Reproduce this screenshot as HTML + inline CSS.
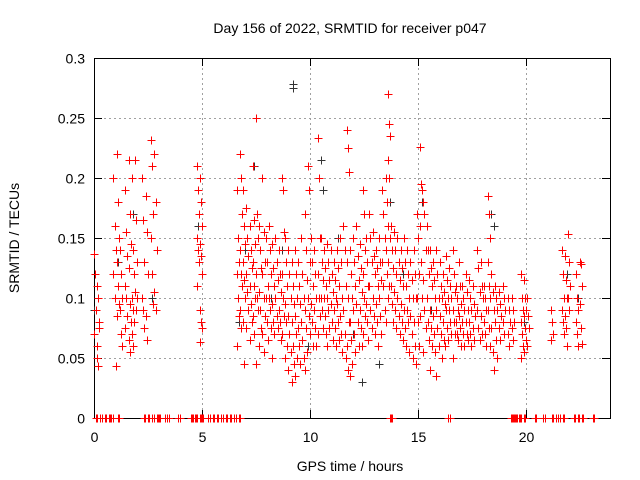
<!DOCTYPE html>
<html><head><meta charset="utf-8"><style>
body{margin:0;background:#fff}
svg{display:block;font-family:"Liberation Sans",sans-serif}
</style></head><body>
<svg id="chart" width="640" height="480" viewBox="0 0 640 480" xmlns="http://www.w3.org/2000/svg">
<rect width="640" height="480" fill="#fff"/>
<text x="350" y="33" font-size="14" text-anchor="middle">Day 156 of 2022, SRMTID for receiver p047</text>
<g id="grid"></g>
<g id="axes"></g>
<g id="black"></g>
<g id="red"></g>
<text x="350" y="471" font-size="14" text-anchor="middle">GPS time / hours</text>
<text transform="translate(19,238) rotate(-90)" font-size="14" text-anchor="middle">SRMTID / TECUs</text>
</svg>
<script>
const xTicks=[0,5,10,15,20];
const yTicks=[0,0.05,0.1,0.15,0.2,0.25,0.3];
const yTickLabels=["0","0.05","0.1","0.15","0.2","0.25","0.3"];
const sparseRows=[
[0.05,0.137,0.12,0.09,0.07],[0.2,0.11,0.1,0.08,0.06,0.043,0.075,0.05],
[0.95,0.2,0.16,0.14,0.12,0.1,0.043],[1.1,0.22,0.18,0.15,0.13,0.11,0.095,0.085],[1.25,0.14,0.12,0.1,0.09,0.07,0.06],
[1.5,0.19,0.155,0.135,0.11,0.1,0.085,0.075],[1.65,0.215,0.17,0.145,0.125,0.095,0.08,0.065,0.055],[1.8,0.2,0.14,0.12,0.1,0.09,0.08,0.07,0.06],[1.95,0.215,0.165,0.13,0.105,0.09,0.1],
[2.25,0.2,0.165,0.13,0.1,0.09,0.075],[2.45,0.185,0.155,0.12,0.085,0.065],
[2.7,0.232,0.21,0.17,0.15,0.12,0.095],[2.85,0.22,0.18,0.14,0.105,0.09],
[4.8,0.21,0.19,0.17,0.15,0.14,0.13,0.11],[4.95,0.2,0.18,0.16,0.145,0.135,0.12,0.09,0.08,0.075,0.063],
[21.2,0.09,0.08,0.07,0.065],[21.7,0.14,0.12,0.1,0.09,0.08,0.07],[21.85,0.135,0.115,0.1,0.085,0.075,0.06],[22.0,0.153,0.13,0.11,0.1,0.09],
[22.35,0.12,0.1,0.09,0.08,0.07,0.06],[22.55,0.13,0.128,0.11,0.095,0.075,0.062]
];
const denseRows=[
[6.65,0.19,0.15,0.13,0.12,0.1,0.085,0.06],[6.8,0.22,0.2,0.17,0.14,0.12,0.11,0.09,0.075],[6.95,0.19,0.16,0.145,0.13,0.115,0.1,0.08,0.045],
[7.1,0.175,0.15,0.135,0.12,0.105,0.09,0.075],[7.25,0.16,0.14,0.125,0.11,0.095,0.08,0.065],[7.4,0.21,0.165,0.145,0.13,0.11,0.1,0.085,0.07],
[7.55,0.25,0.17,0.15,0.12,0.1,0.09,0.045],[7.7,0.16,0.14,0.125,0.105,0.09,0.075,0.06],[7.85,0.2,0.155,0.13,0.12,0.1,0.085,0.07,0.055],
[8.0,0.15,0.13,0.11,0.1,0.08,0.065],[8.15,0.16,0.14,0.12,0.1,0.09,0.075],[8.3,0.145,0.125,0.11,0.095,0.08,0.07,0.05],
[8.45,0.15,0.13,0.115,0.1,0.085,0.075],[8.6,0.14,0.12,0.105,0.09,0.08,0.065],[8.75,0.2,0.19,0.155,0.12,0.1,0.085,0.07],
[8.9,0.15,0.13,0.11,0.095,0.08,0.06,0.05],[9.05,0.14,0.12,0.1,0.085,0.07,0.055,0.04],[9.2,0.13,0.11,0.095,0.08,0.06,0.045,0.03],
[9.35,0.14,0.12,0.1,0.085,0.07,0.05,0.035],[9.5,0.13,0.11,0.095,0.075,0.06,0.045],[9.65,0.15,0.12,0.1,0.08,0.065,0.05],
[9.8,0.17,0.14,0.115,0.09,0.075,0.055,0.04],[9.95,0.21,0.19,0.13,0.1,0.085,0.07],[10.1,0.15,0.13,0.11,0.095,0.08,0.06],
[10.25,0.14,0.12,0.1,0.09,0.075,0.06],[10.4,0.233,0.2,0.15,0.12,0.1,0.085,0.07],[10.55,0.15,0.13,0.115,0.1,0.09,0.075],
[10.7,0.14,0.125,0.11,0.1,0.085,0.07],[10.85,0.145,0.13,0.115,0.1,0.09,0.075,0.06],[11.0,0.14,0.12,0.105,0.095,0.08,0.065],
[11.15,0.13,0.115,0.1,0.09,0.075,0.06],[11.3,0.14,0.125,0.11,0.095,0.08,0.065],[11.45,0.15,0.13,0.1,0.085,0.07,0.055],
[11.6,0.16,0.14,0.11,0.09,0.07,0.05],[11.75,0.24,0.225,0.205,0.13,0.1,0.08,0.06,0.04],[11.9,0.14,0.12,0.1,0.08,0.065,0.045,0.035],
[12.05,0.15,0.13,0.11,0.09,0.07,0.055],[12.2,0.16,0.135,0.115,0.095,0.08,0.06],[12.35,0.145,0.125,0.105,0.09,0.075,0.06],
[12.5,0.19,0.17,0.14,0.12,0.1,0.085,0.07],[12.65,0.15,0.13,0.11,0.095,0.08,0.065],[12.8,0.17,0.15,0.13,0.11,0.09,0.075],
[12.95,0.155,0.135,0.12,0.1,0.085,0.07],[13.1,0.14,0.125,0.11,0.095,0.08,0.06],[13.25,0.15,0.13,0.115,0.1,0.085,0.07],
[13.4,0.19,0.17,0.15,0.13,0.11,0.09],[13.55,0.2,0.18,0.16,0.14,0.12,0.1,0.08],[13.65,0.27,0.245,0.235,0.215,0.2,0.15,0.13,0.11],
[13.8,0.16,0.14,0.125,0.11,0.095,0.08],[13.95,0.155,0.14,0.12,0.105,0.09,0.075],[14.1,0.15,0.13,0.115,0.1,0.085,0.07],
[14.25,0.14,0.125,0.11,0.095,0.08,0.065],[14.4,0.15,0.13,0.11,0.09,0.075,0.06],[14.55,0.14,0.12,0.1,0.09,0.08,0.055],
[14.7,0.13,0.115,0.1,0.085,0.07,0.05],[14.85,0.14,0.12,0.1,0.08,0.06,0.045],[15.0,0.17,0.15,0.12,0.1,0.08,0.06],
[15.15,0.226,0.195,0.19,0.16,0.13,0.1,0.085],[15.3,0.18,0.17,0.14,0.115,0.09,0.075,0.055],[15.45,0.16,0.14,0.12,0.1,0.08,0.065],
[15.6,0.14,0.125,0.11,0.09,0.075,0.06,0.04],[15.75,0.13,0.115,0.1,0.085,0.07,0.055],[15.9,0.14,0.12,0.1,0.09,0.075,0.06,0.035],
[16.05,0.13,0.11,0.1,0.085,0.07,0.05],[16.2,0.12,0.105,0.095,0.08,0.065,0.06],[16.35,0.135,0.115,0.1,0.09,0.075,0.065],
[16.5,0.125,0.11,0.1,0.09,0.08,0.07],[16.65,0.14,0.12,0.105,0.09,0.08,0.07,0.05],[16.8,0.11,0.1,0.09,0.08,0.07,0.065],
[16.95,0.13,0.11,0.095,0.085,0.075,0.06],[17.1,0.11,0.1,0.09,0.08,0.07,0.06],[17.25,0.12,0.105,0.09,0.08,0.07,0.065],
[17.4,0.115,0.1,0.09,0.08,0.07,0.06],[17.6,0.11,0.095,0.085,0.075,0.065],[17.8,0.14,0.125,0.105,0.09,0.075,0.065],
[17.95,0.13,0.11,0.1,0.085,0.07],[18.1,0.11,0.1,0.09,0.08,0.07,0.06],[18.3,0.185,0.17,0.15,0.13,0.11,0.1,0.09,0.075,0.06],
[18.45,0.12,0.105,0.09,0.075,0.055,0.04],[18.6,0.11,0.1,0.09,0.08,0.065,0.05],[18.8,0.105,0.095,0.085,0.075,0.065],
[19.0,0.11,0.1,0.09,0.08,0.07],[19.2,0.1,0.09,0.08,0.07,0.06],[19.4,0.1,0.09,0.08,0.075,0.065],
[19.8,0.12,0.1,0.09,0.08,0.07,0.06,0.05],[19.95,0.115,0.1,0.09,0.085,0.075,0.065,0.055],[20.1,0.1,0.085,0.075,0.06]
];
const zeroTimes=[0.1,0.3,0.5,0.7,0.8,1.1,2.3,2.5,2.7,2.9,3.0,3.3,3.4,3.9,4.5,4.6,4.7,4.9,5.0,5.3,5.5,5.7,5.9,6.1,6.3,6.5,6.7,13.7,13.75,16.4,19.3,19.4,19.5,19.6,19.7,19.9,20.4,20.8,21.2,21.4,21.5,21.7,22.2,22.4,22.6,23.1];
const blackTimes=[0.0,1.1,1.8,2.7,4.8,6.7,7.0,7.4,8.2,8.7,9.2,9.2,9.9,10.5,10.6,11.3,12.0,12.4,13.2,13.7,14.3,15.2,15.6,16.8,17.9,18.4,18.5,19.9,21.9,22.4];
const blackValues=[0.09,0.13,0.17,0.1,0.16,0.08,0.14,0.21,0.1,0.14,0.278,0.275,0.06,0.215,0.19,0.15,0.07,0.03,0.045,0.18,0.12,0.18,0.09,0.1,0.13,0.17,0.16,0.08,0.12,0.1];

const NS="http://www.w3.org/2000/svg";
const L=94,R=610,T=58,B=418;
function xs(t){return L+t*21.6;}
function ys(v){return B-(v/0.3)*(B-T);}
function mk(tag,attrs,parent){const e=document.createElementNS(NS,tag);for(const k in attrs)e.setAttribute(k,attrs[k]);parent.appendChild(e);return e;}
const grid=document.getElementById('grid'),axes=document.getElementById('axes');
yTicks.forEach((v,i)=>{
  const y=ys(v)+0.5;
  if(v>0&&v<0.3){const g=mk('line',{x1:L,x2:R,y1:y,y2:y,stroke:'#a0a0a0','stroke-dasharray':'2,3'},grid);
  
  }
  mk('line',{x1:L,x2:L+8,y1:y,y2:y,stroke:'#000'},axes);
  mk('line',{x1:R-8,x2:R,y1:y,y2:y,stroke:'#000'},axes);
  const t=mk('text',{x:L-9,y:y+5,'font-size':14,'text-anchor':'end'},axes);t.textContent=yTickLabels[i];
  
  
});
xTicks.forEach(v=>{
  const x=xs(v)+0.5;
  if(v>0){const g=mk('line',{x1:x,x2:x,y1:T,y2:B,stroke:'#a0a0a0','stroke-dasharray':'2,3'},grid);
  
  }
  mk('line',{x1:x,x2:x,y1:B,y2:B-8,stroke:'#000'},axes);
  mk('line',{x1:x,x2:x,y1:T,y2:T+8,stroke:'#000'},axes);
  const t=mk('text',{x:x,y:B+24,'font-size':14,'text-anchor':'middle'},axes);t.textContent=String(v);
  
  
});
mk('rect',{x:L+0.5,y:T+0.5,width:R-L,height:B-T,fill:'none',stroke:'#000'},axes);
function plus(t,v,color,g){
  const x=Math.round(xs(t))+0.5,y=Math.round(ys(v))+0.5;
  const p=mk('path',{d:`M${x-4},${y}h8M${x},${y-4}v8`,stroke:color,'stroke-width':1.2,fill:'none','shape-rendering':'crispEdges'},g);
  
  
}
const bg=document.getElementById('black'),rg=document.getElementById('red');
blackTimes.forEach((t,i)=>plus(t,blackValues[i],'#333',bg));
sparseRows.concat(denseRows).forEach(row=>{row.slice(1).forEach((v,j)=>plus(row[0]+((j%3)-1)*0.05,v,'#f00',rg));});
zeroTimes.forEach(t=>{plus(t,0,'#f00',rg);plus(t+0.06,0,'#f00',rg);});
</script>
</body></html>
